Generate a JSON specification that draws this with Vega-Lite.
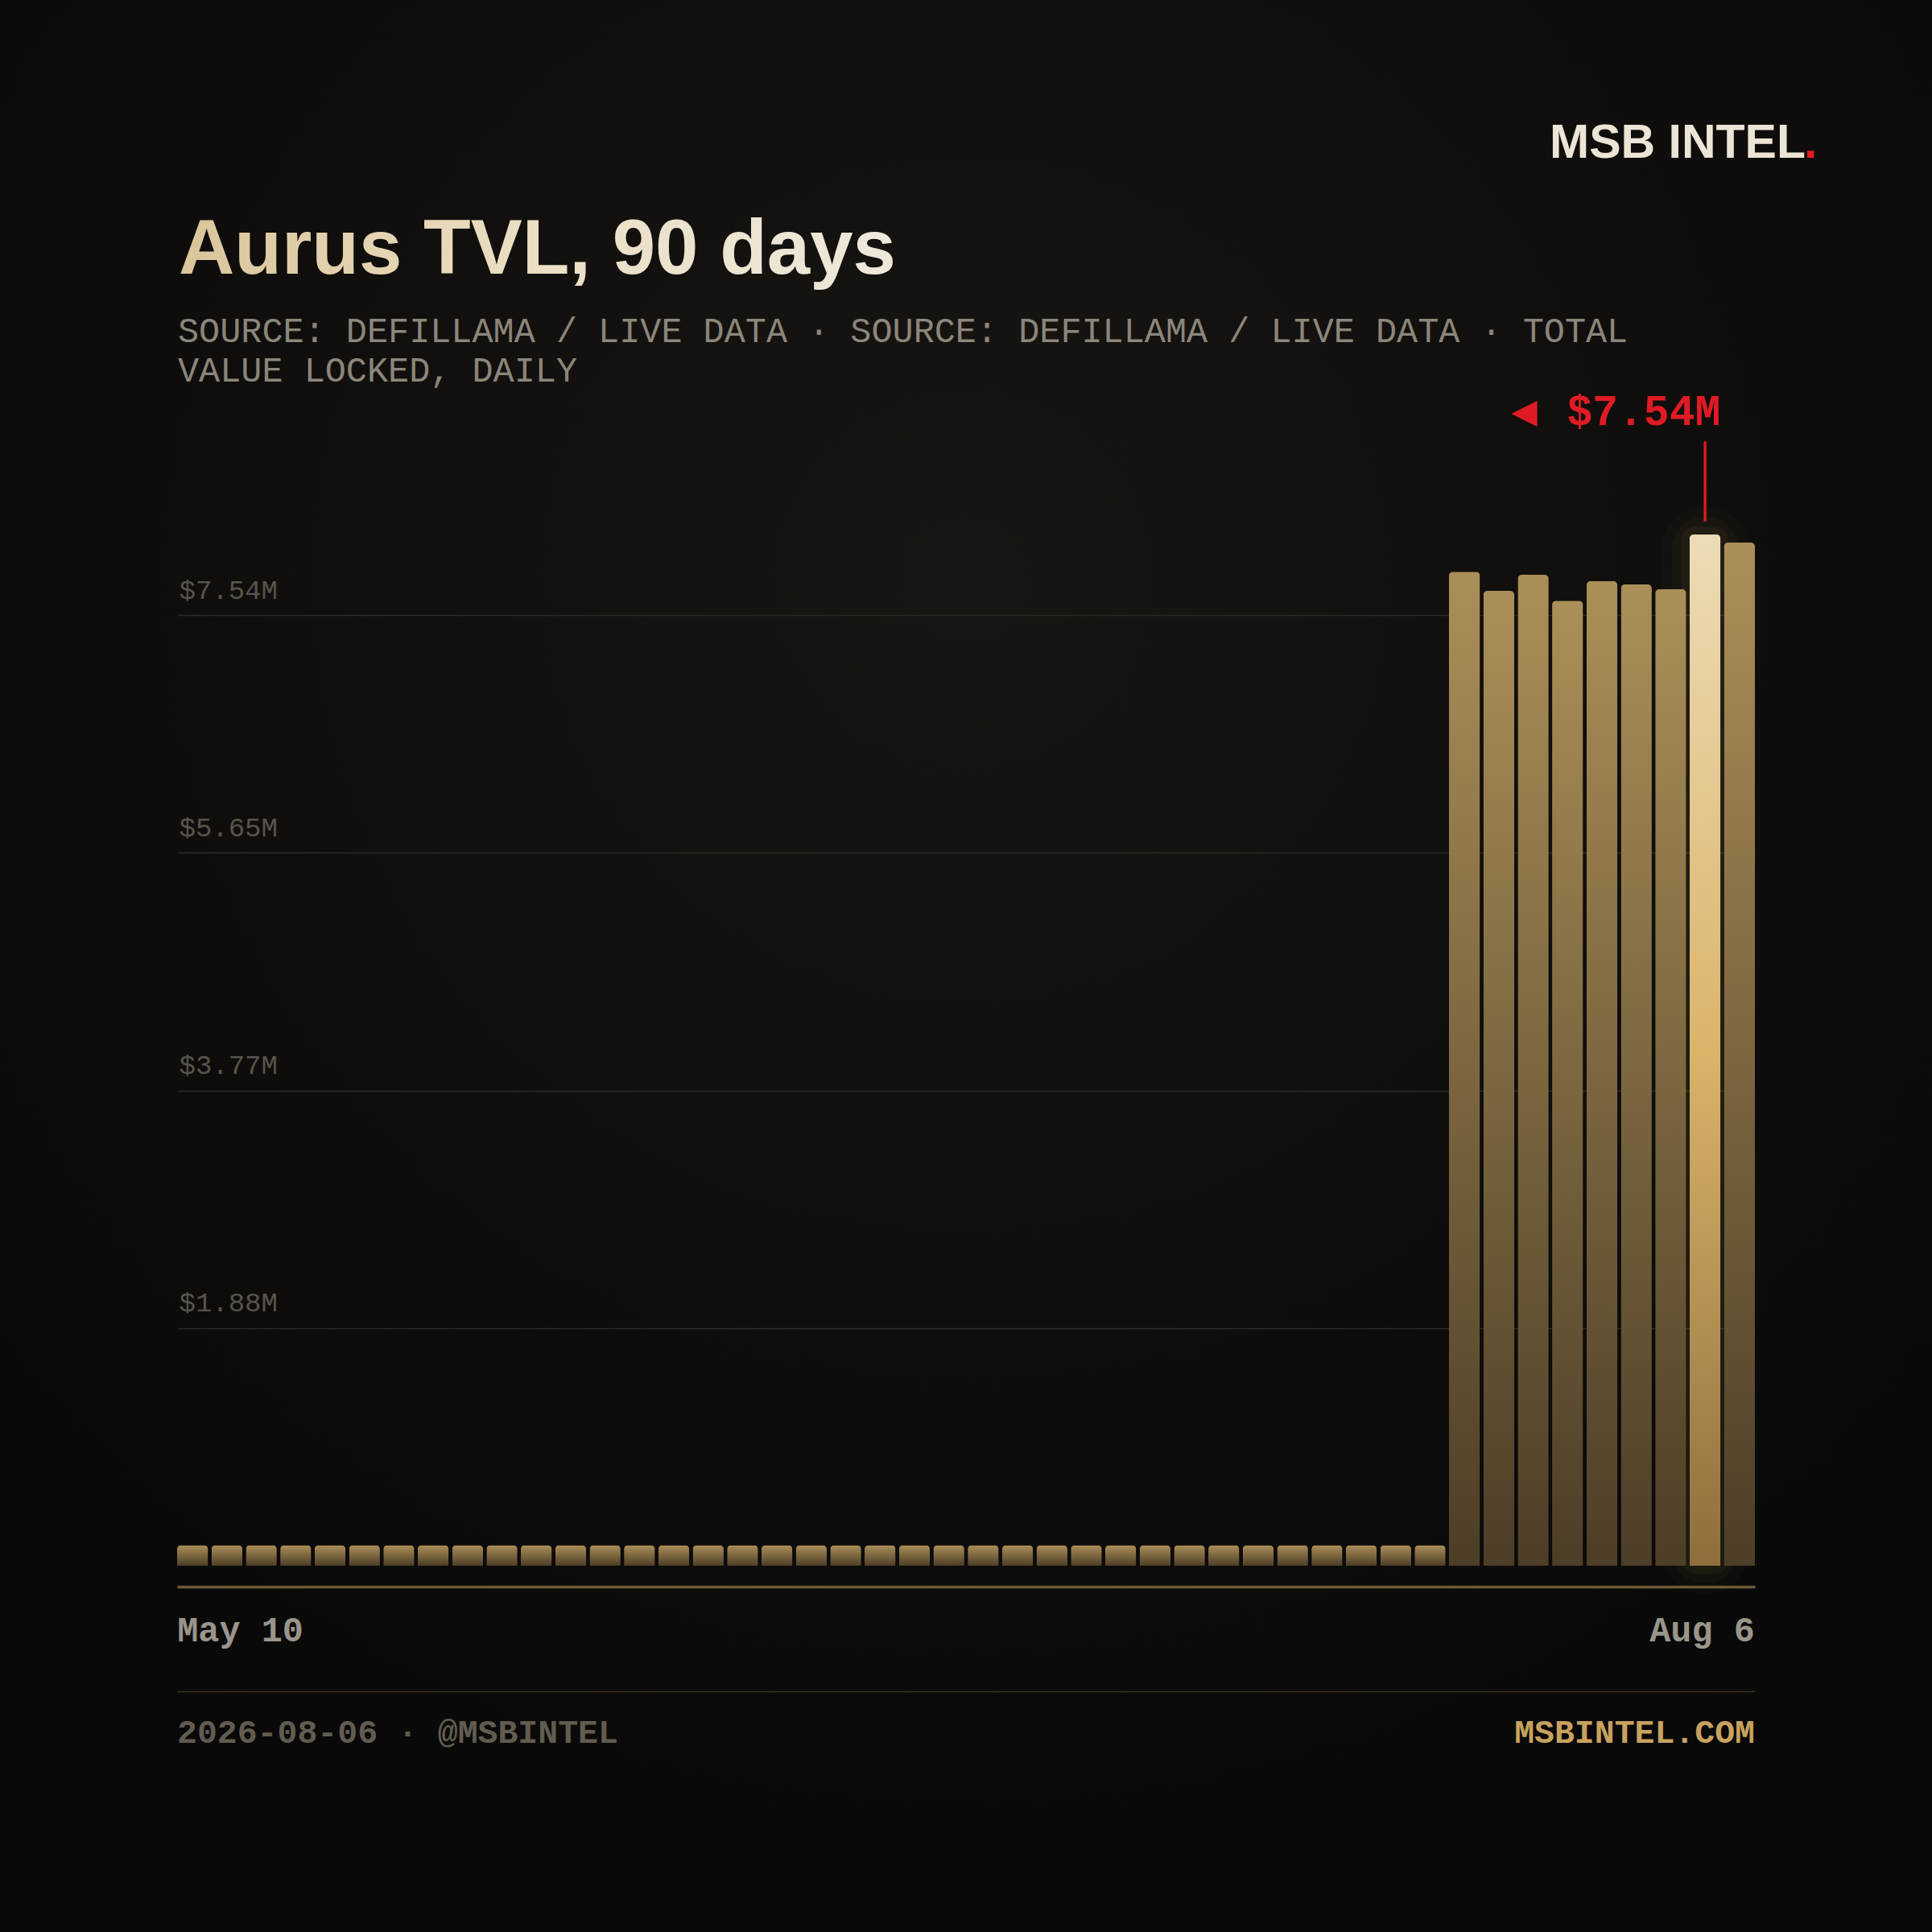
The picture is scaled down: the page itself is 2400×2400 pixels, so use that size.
{
  "$schema": "https://vega.github.io/schema/vega-lite/v6.json",
  "width": 2400,
  "height": 2400,
  "autosize": {"type": "none"},
  "padding": 0,
  "background": "#0b0a09",
  "config": {
    "view": {
      "stroke": null,
      "fill": {
        "gradient": "radial", "x1": 0.5, "y1": 0.3, "r1": 0, "x2": 0.5, "y2": 0.3, "r2": 0.75,
        "stops": [
          {"offset": 0, "color": "#181512"},
          {"offset": 0.45, "color": "#110f0d"},
          {"offset": 1, "color": "#080808"}
        ]
      }
    }
  },
  "data": {
    "values": [
      {"date": "2026-05-10", "tvl": 0.15},
      {"date": "2026-05-12", "tvl": 0.15},
      {"date": "2026-05-14", "tvl": 0.15},
      {"date": "2026-05-16", "tvl": 0.15},
      {"date": "2026-05-18", "tvl": 0.15},
      {"date": "2026-05-20", "tvl": 0.15},
      {"date": "2026-05-22", "tvl": 0.15},
      {"date": "2026-05-24", "tvl": 0.15},
      {"date": "2026-05-26", "tvl": 0.15},
      {"date": "2026-05-28", "tvl": 0.15},
      {"date": "2026-05-30", "tvl": 0.15},
      {"date": "2026-06-01", "tvl": 0.15},
      {"date": "2026-06-03", "tvl": 0.15},
      {"date": "2026-06-05", "tvl": 0.15},
      {"date": "2026-06-07", "tvl": 0.15},
      {"date": "2026-06-09", "tvl": 0.15},
      {"date": "2026-06-11", "tvl": 0.15},
      {"date": "2026-06-13", "tvl": 0.15},
      {"date": "2026-06-15", "tvl": 0.15},
      {"date": "2026-06-17", "tvl": 0.15},
      {"date": "2026-06-19", "tvl": 0.15},
      {"date": "2026-06-21", "tvl": 0.15},
      {"date": "2026-06-23", "tvl": 0.15},
      {"date": "2026-06-25", "tvl": 0.15},
      {"date": "2026-06-27", "tvl": 0.15},
      {"date": "2026-06-29", "tvl": 0.15},
      {"date": "2026-07-01", "tvl": 0.15},
      {"date": "2026-07-03", "tvl": 0.15},
      {"date": "2026-07-05", "tvl": 0.15},
      {"date": "2026-07-07", "tvl": 0.15},
      {"date": "2026-07-09", "tvl": 0.15},
      {"date": "2026-07-11", "tvl": 0.15},
      {"date": "2026-07-13", "tvl": 0.15},
      {"date": "2026-07-15", "tvl": 0.15},
      {"date": "2026-07-17", "tvl": 0.15},
      {"date": "2026-07-19", "tvl": 0.15},
      {"date": "2026-07-21", "tvl": 0.15},
      {"date": "2026-07-23", "tvl": 7.269},
      {"date": "2026-07-25", "tvl": 7.128},
      {"date": "2026-07-27", "tvl": 7.246},
      {"date": "2026-07-29", "tvl": 7.057},
      {"date": "2026-07-31", "tvl": 7.199},
      {"date": "2026-08-02", "tvl": 7.175},
      {"date": "2026-08-04", "tvl": 7.14},
      {"date": "2026-08-05", "tvl": 7.54},
      {"date": "2026-08-06", "tvl": 7.481}
    ]
  },
  "layer": [
    {
      "transform": [{"filter": "datum.date == '2026-08-05'"}],
      "mark": {"type": "bar", "fillOpacity": 0, "stroke": "#dcb66a", "strokeOpacity": 0.02, "strokeWidth": 70, "cornerRadius": 30},
      "encoding": {
        "x": {"field": "date", "type": "ordinal", "title": null},
        "y": {"field": "tvl", "type": "quantitative", "title": null}
      }
    },
    {
      "transform": [{"filter": "datum.date == '2026-08-05'"}],
      "mark": {"type": "bar", "fillOpacity": 0, "stroke": "#dcb66a", "strokeOpacity": 0.03, "strokeWidth": 44, "cornerRadius": 18},
      "encoding": {
        "x": {"field": "date", "type": "ordinal", "title": null},
        "y": {"field": "tvl", "type": "quantitative", "title": null}
      }
    },
    {
      "transform": [{"filter": "datum.date == '2026-08-05'"}],
      "mark": {"type": "bar", "fillOpacity": 0, "stroke": "#dcb66a", "strokeOpacity": 0.05, "strokeWidth": 20, "cornerRadius": 8},
      "encoding": {
        "x": {"field": "date", "type": "ordinal", "title": null},
        "y": {"field": "tvl", "type": "quantitative", "title": null}
      }
    },
    {
      "transform": [{"filter": "datum.date != '2026-08-05'"}],
      "mark": {
        "type": "bar",
        "cornerRadiusTopLeft": 5,
        "cornerRadiusTopRight": 5,
        "color": {
          "gradient": "linear", "x1": 0, "y1": 0, "x2": 0, "y2": 1,
          "stops": [
            {"offset": 0, "color": "#ab8f58"},
            {"offset": 1, "color": "#4c3e27"}
          ]
        }
      },
      "encoding": {
        "x": {
          "field": "date",
          "type": "ordinal",
          "title": null,
          "scale": {"paddingInner": 0.1, "paddingOuter": 0, "range": [220, 2180]},
          "axis": {
            "values": ["2026-05-10", "2026-08-06"],
            "labelExpr": "datum.value == '2026-05-10' ? 'May 10' : 'Aug 6'",
            "labelAngle": 0,
            "labelAlign": {"condition": {"test": "datum.value == '2026-05-10'", "value": "left"}, "value": "right"},
            "labelOffset": {"condition": {"test": "datum.value == '2026-05-10'", "value": -19}, "value": 19},
            "labelOverlap": false,
            "offset": -429,
            "domainColor": "#6b5836",
            "domainWidth": 3.3,
            "ticks": false,
            "tickSize": 0,
            "grid": false,
            "labelPadding": 67,
            "labelBaseline": "alphabetic",
            "labelFont": "Liberation Mono",
            "labelFontSize": 43.5,
            "labelFontWeight": "bold",
            "labelColor": "#9a958a"
          }
        },
        "y": {
          "field": "tvl",
          "type": "quantitative",
          "title": null,
          "scale": {"domain": [-1.5, 8.6], "nice": false, "zero": false, "range": [2199.9, 484]},
          "axis": {
            "values": [-0.9165, 1.738, 3.475, 5.213, 6.951],
            "labelExpr": "datum.value > 6 ? '$7.54M' : datum.value > 4 ? '$5.65M' : datum.value > 2.5 ? '$3.77M' : datum.value > 0 ? '$1.88M' : ''",
            "grid": true,
            "gridColor": {"condition": {"test": "datum.value < 0", "value": "#3b3327"}, "value": "#2c2924"},
            "gridWidth": 1.5,
            "domain": false,
            "ticks": false,
            "tickSize": 0,
            "labelAlign": "left",
            "labelPadding": -222,
            "labelOffset": -21,
            "labelBaseline": "alphabetic",
            "labelFont": "Liberation Mono",
            "labelFontSize": 34,
            "labelColor": "#58544b"
          }
        }
      }
    },
    {
      "transform": [{"filter": "datum.date == '2026-08-05'"}],
      "mark": {
        "type": "bar",
        "cornerRadiusTopLeft": 5,
        "cornerRadiusTopRight": 5,
        "color": {
          "gradient": "linear", "x1": 0, "y1": 0, "x2": 0, "y2": 1,
          "stops": [
            {"offset": 0, "color": "#ecdcb6"},
            {"offset": 0.5, "color": "#dbb46a"},
            {"offset": 1, "color": "#8e6e3c"}
          ]
        }
      },
      "encoding": {
        "x": {"field": "date", "type": "ordinal", "title": null},
        "y": {"field": "tvl", "type": "quantitative", "title": null}
      }
    },
    {
      "transform": [{"filter": "datum.date == '2026-08-05'"}],
      "mark": {"type": "rule", "color": "#e01b24", "strokeWidth": 3.3},
      "encoding": {
        "x": {"field": "date", "type": "ordinal", "title": null},
        "y": {"datum": 7.636, "type": "quantitative", "title": null},
        "y2": {"datum": 8.221}
      }
    },
    {
      "transform": [{"filter": "datum.date == '2026-08-05'"}],
      "mark": {"type": "text", "text": "$7.54M", "align": "right", "baseline": "alphabetic", "font": "Liberation Mono", "fontSize": 53, "fontWeight": "bold", "color": "#e01b24"},
      "encoding": {
        "x": {"field": "date", "type": "ordinal", "bandPosition": 1, "title": null},
        "y": {"datum": 8.339, "type": "quantitative", "title": null}
      }
    },
    {
      "transform": [{"filter": "datum.date == '2026-08-05'"}],
      "mark": {"type": "text", "text": "◀", "align": "left", "baseline": "alphabetic", "dx": -260, "font": "DejaVu Sans Mono", "fontSize": 54, "color": "#e01b24"},
      "encoding": {
        "x": {"field": "date", "type": "ordinal", "bandPosition": 1, "title": null},
        "y": {"datum": 8.339, "type": "quantitative", "title": null}
      }
    },
    {
      "transform": [{"filter": "datum.date == '2026-05-10'"}],
      "mark": {"type": "text", "text": "2026-08-06 · @MSBINTEL", "align": "left", "baseline": "alphabetic", "font": "Liberation Mono", "fontSize": 41.5, "fontWeight": "bold", "color": "#625c50"},
      "encoding": {
        "x": {"field": "date", "type": "ordinal", "bandPosition": 0, "title": null},
        "y": {"datum": -1.295, "type": "quantitative", "title": null}
      }
    },
    {
      "transform": [{"filter": "datum.date == '2026-08-06'"}],
      "mark": {"type": "text", "text": "MSBINTEL.COM", "align": "right", "baseline": "alphabetic", "font": "Liberation Mono", "fontSize": 41.5, "fontWeight": "bold", "color": "#c8a25e"},
      "encoding": {
        "x": {"field": "date", "type": "ordinal", "bandPosition": 1, "title": null},
        "y": {"datum": -1.295, "type": "quantitative", "title": null}
      }
    },
    {
      "transform": [{"filter": "datum.date == '2026-05-10'"}],
      "mark": {
        "type": "text", "text": "Aurus TVL, 90 days", "align": "left", "baseline": "alphabetic", "dx": 2,
        "font": "Liberation Sans", "fontSize": 96, "fontWeight": "bold",
        "color": {
          "gradient": "linear", "x1": 0, "y1": 0, "x2": 1, "y2": 0,
          "stops": [
            {"offset": 0, "color": "#dac59a"},
            {"offset": 0.5, "color": "#ebdfc4"},
            {"offset": 1, "color": "#eee8dc"}
          ]
        }
      },
      "encoding": {
        "x": {"field": "date", "type": "ordinal", "bandPosition": 0, "title": null},
        "y": {"datum": 9.447, "type": "quantitative", "title": null}
      }
    },
    {
      "transform": [{"filter": "datum.date == '2026-05-10'"}],
      "mark": {
        "type": "text",
        "text": ["SOURCE: DEFILLAMA / LIVE DATA · SOURCE: DEFILLAMA / LIVE DATA · TOTAL", "VALUE LOCKED, DAILY"],
        "align": "left", "baseline": "alphabetic", "lineHeight": 49.5, "dx": 1,
        "font": "Liberation Mono", "fontSize": 43.5, "color": "#8b867b"
      },
      "encoding": {
        "x": {"field": "date", "type": "ordinal", "bandPosition": 0, "title": null},
        "y": {"datum": 8.95, "type": "quantitative", "title": null}
      }
    },
    {
      "transform": [{"filter": "datum.date == '2026-08-06'"}],
      "mark": {"type": "text", "text": "MSB INTEL", "align": "right", "baseline": "alphabetic", "dx": 63, "font": "Liberation Sans", "fontSize": 59, "fontWeight": "bold", "color": "#ece5d6"},
      "encoding": {
        "x": {"field": "date", "type": "ordinal", "bandPosition": 1, "title": null},
        "y": {"datum": 10.295, "type": "quantitative", "title": null}
      }
    },
    {
      "transform": [{"filter": "datum.date == '2026-08-06'"}],
      "mark": {"type": "text", "text": ".", "align": "left", "baseline": "alphabetic", "dx": 61, "font": "Liberation Sans", "fontSize": 59, "fontWeight": "bold", "color": "#e01b24"},
      "encoding": {
        "x": {"field": "date", "type": "ordinal", "bandPosition": 1, "title": null},
        "y": {"datum": 10.295, "type": "quantitative", "title": null}
      }
    }
  ]
}
